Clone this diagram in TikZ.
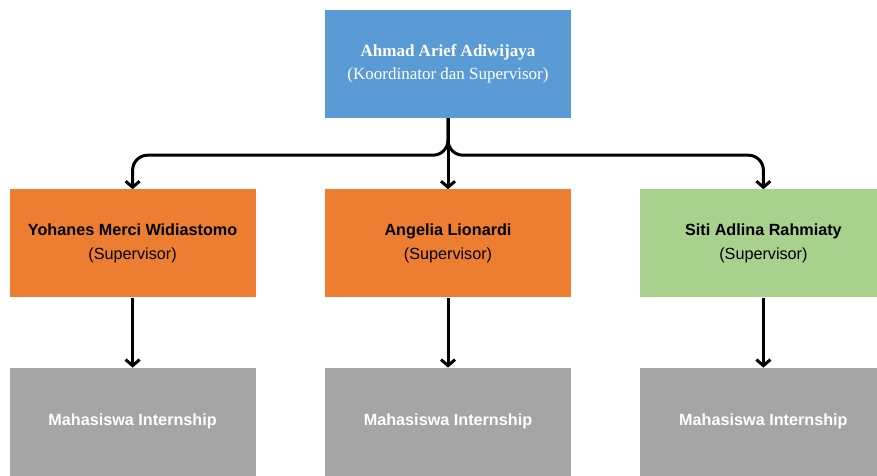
\documentclass[tikz,border=0pt]{standalone}
\usepackage{fontspec}
\setmainfont{Liberation Sans}
\newfontfamily\headfont{Liberation Serif}
\usepackage{tikz}
\usetikzlibrary{positioning}
\usetikzlibrary{arrows.meta}
\definecolor{myblue}{RGB}{91,155,213}
\definecolor{myoran}{RGB}{237,125,49}
\definecolor{mygree}{RGB}{169,209,142}
\definecolor{mygrey}{RGB}{165,165,165}
\tikzstyle{chief} = [rectangle, minimum width=246pt, minimum height=108pt, inner sep=0pt, text centered, fill=myblue, text=white, font=\headfont\fontsize{17}{23}\selectfont]
\tikzstyle{superv} = [rectangle, minimum width=246pt, minimum height=108pt, inner sep=0pt, text centered, fill=myoran, text=black, font=\fontsize{16.2}{24}\selectfont]
\tikzstyle{supervg} = [superv, fill=mygree]
\tikzstyle{intern} = [rectangle, minimum width=246pt, minimum height=108pt, inner sep=0pt, text centered, fill=mygrey, text=white, font=\bfseries\fontsize{16.2}{24}\selectfont]
\tikzstyle{link} = [line width=3pt, rounded corners=15pt, -{Straight Barb[length=6pt,width=14pt]}]

\begin{document}
\begin{tikzpicture}[x=1pt,y=1pt,align=center]
	\useasboundingbox (0,0) rectangle (877,475);
	\node (koord) [chief] at (448,411) {\textbf{Ahmad Arief Adiwijaya}\\(Koordinator dan Supervisor)};
	\node (angelia) [superv, below=71pt of koord] {\textbf{Angelia Lionardi}\\(Supervisor)};
	\node (yohanes) [superv, left=69pt of angelia] {\textbf{Yohanes Merci Widiastomo}\\(Supervisor)};
	\node (siti) [supervg, right=69pt of angelia] {\textbf{Siti Adlina Rahmiaty}\\(Supervisor)};
	\node (mhs1) [intern, below=70pt of yohanes] {Mahasiswa Internship};
	\node (mhs2) [intern, below=70pt of angelia] {Mahasiswa Internship};
	\node (mhs3) [intern, below=70pt of siti] {Mahasiswa Internship};
	\draw [link] (koord.south) -- ++(0,-37) -| (yohanes.north);
	\draw [link] (koord.south) -- ++(0,-37) -| (siti.north);
	\draw [link] (koord.south) -- (angelia.north);
	\draw [link] (yohanes) -- (mhs1);
	\draw [link] (angelia) -- (mhs2);
	\draw [link] (siti) -- (mhs3);
\end{tikzpicture}
\end{document}
